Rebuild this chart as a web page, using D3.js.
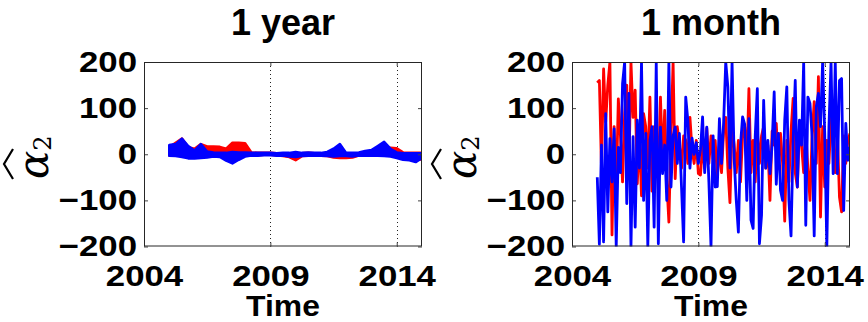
<!DOCTYPE html>
<html>
<head>
<meta charset="utf-8">
<script src="https://cdn.jsdelivr.net/npm/d3@7"></script>
<style>
  body { margin: 0; background: #fff; }
  svg { display: block; }
  text { font-family: "Liberation Sans", Arial, sans-serif; font-weight: bold; fill: #000; }
</style>
</head>
<body>
<svg id="chart" width="868" height="322"></svg>
<script>
// x ticks (years), y ticks
var xTicks = [2004, 2009, 2014];
var yTicks = [-200, -100, 0, 100, 200];
var gridYears = [2009, 2014];
var titles = ["1 year", "1 month"];

// 1 year window: quarterly envelopes of the dense estimate, 2005.00 .. 2015.00
var yearTimes = [2005, 2005.25, 2005.5, 2005.75, 2006, 2006.25, 2006.5, 2006.75, 2007, 2007.25,
  2007.5, 2007.75, 2008, 2008.25, 2008.5, 2008.75, 2009, 2009.25, 2009.5, 2009.75,
  2010, 2010.25, 2010.5, 2010.75, 2011, 2011.25, 2011.5, 2011.75, 2012, 2012.25,
  2012.5, 2012.75, 2013, 2013.25, 2013.5, 2013.75, 2014, 2014.25, 2014.5, 2014.75, 2015];
var redYearHi = [15, 25, 34, 15, 12, 22, 17, 17, 16, 12, 25, 25, 24, 4, 3, 3, 3, 2, 2, 2,
  1, 2, 3, 2, 2, 2, 1, 1, 1, 1, 2, 3, 4, 5, 10, 14, 13, 4, 3, 3, 3];
var redYearLo = [-3, -2, -3, -4, -5, -4, -3, -2, -2, -3, -3, -2, -2, -2, -2, -1, -1, -2, -4, -6,
  -13, -4, -3, -3, -3, -4, -7, -8, -8, -7, -3, -2, -2, -2, -2, -2, -3, -6, -8, -10, -12];
var blueYearHi = [20, 22, 34, 18, 8, 22, 6, 4, 3, 3, 5, 4, 4, 3, 3, 3, 3, 2, 3, 3,
  5, 3, 4, 3, 3, 5, 12, 22, 3, 3, 4, 7, 9, 18, 27, 12, 4, 2, 2, 2, 2];
var blueYearLo = [-3, -4, -6, -9, -9, -8, -7, -5, -6, -14, -20, -12, -5, -3, -3, -2, -2, -3, -3, -5,
  -6, -4, -3, -3, -3, -4, -5, -4, -4, -5, -3, -3, -3, -3, -4, -5, -8, -12, -13, -17, -8];

// 1 month window: monthly values, Jan 2005 .. Jan 2015
var redMonth = [155, 160, -30, 185, 70, 150, 200, -175, 60, -80, 120, 40, -60, 90, 150, -40, 200, 80, 139, -64,
  40, -90, 88, 60, -30, 124, -80, 60, 30, -50, 124, -20, 95, -60, -147, 40, 200, -53, 60, 20,
  -30, 40, 30, -20, 80, 10, -20, 30, -42, -45, 20, -30, 56, -20, 40, -10, 30, -50, 20, -40,
  50, 80, -30, -105, 60, 20, -40, 30, -60, 40, 60, -20, 142, -40, 30, -60, 50, -20, 40, 60,
  -30, 20, -100, 50, 20, 67, -30, 45, -20, -145, 30, -60, 50, 121, -40, -71, 60, 20, -40, 50,
  -30, -100, 40, 114, -20, 168, -136, 60, -71, 30, -20, 80, 20, -40, 50, -93, -125, 40, -20, 30, 45];
var blueMonth = [-50, -195, 20, -190, 88, -125, 34, -60, 55, -200, 15, -40, 153, 200, -107, 132, -200, 38, -158, 74,
  -30, 200, -100, 45, -200, 30, 60, -158, 200, -194, 59, -42, 20, -100, 200, -71, 40, 59, -20, 45,
  -71, -190, 124, 74, -30, 35, 0, 25, -20, 10, 81, -40, 59, -60, -200, 40, -71, -70, 77, -20,
  70, 200, 146, -30, 200, -10, -100, -169, 20, 81, 65, -100, 77, -143, -161, 40, 142, -194, -132, 117,
  -30, 30, -42, 20, 135, -65, 45, -78, -100, 74, 146, -100, -177, 30, 160, -71, 74, 20, 200, -154,
  124, 110, 40, -177, 103, 132, 60, 200, 45, -200, 59, 200, -42, 200, -42, 160, 164, -122, 67, -13, 16];
var monthTimes = redMonth.map(function(d, i) { return 2005 + i / 12; });

var svg = d3.select("#chart");
var panels = [{x0: 144, x1: 422}, {x0: 572, x1: 850}];
var yTop = 62, yBot = 246.5;
var sx = 1.2; // tick labels are drawn a bit wide in the original

panels.forEach(function(p, k) {
  var x = d3.scaleLinear().domain([2004, 2015]).range([p.x0, p.x1]);
  var y = d3.scaleLinear().domain([-200, 200]).range([yBot, yTop]);
  var g = svg.append("g");

  g.append("clipPath").attr("id", "clip" + k)
    .append("rect").attr("x", p.x0).attr("y", yTop).attr("width", p.x1 - p.x0).attr("height", yBot - yTop);

  // dotted year grid
  g.selectAll(".grid").data(gridYears).enter().append("line")
    .attr("x1", function(d) { return Math.round(x(d)) + 0.5; })
    .attr("x2", function(d) { return Math.round(x(d)) + 0.5; })
    .attr("y1", yTop).attr("y2", yBot)
    .attr("stroke", "#222").attr("stroke-width", 1)
    .style("stroke-dasharray", "1,3");

  var plot = g.append("g").attr("clip-path", "url(#clip" + k + ")");

  if (k === 0) {
    var area = function(hi, lo) {
      return d3.area()
        .x(function(d, i) { return x(yearTimes[i]); })
        .y0(function(d, i) { return y(lo[i]); })
        .y1(function(d, i) { return y(hi[i]); })(hi);
    };
    [[redYearHi, redYearLo, "#ff0000"], [blueYearHi, blueYearLo, "#0000ff"]].forEach(function(s) {
      plot.append("path")
        .attr("d", area(s[0], s[1]))
        .attr("fill", s[2]).attr("stroke", s[2]).attr("stroke-width", 2.5)
        .attr("stroke-linejoin", "round");
    });
  } else {
    var line = d3.line()
      .x(function(d, i) { return x(monthTimes[i]); })
      .y(function(d) { return y(d); });
    [[redMonth, "#ff0000"], [blueMonth, "#0000ff"]].forEach(function(s) {
      plot.append("path")
        .datum(s[0])
        .attr("d", line)
        .attr("fill", "none").attr("stroke", s[1]).attr("stroke-width", 2.8)
        .attr("stroke-linejoin", "round");
    });
  }

  // axes: MATLAB-style inward ticks on all four sides
  g.append("g").attr("class", "lab").attr("transform", "translate(" + p.x0 + ",0)")
    .call(d3.axisLeft(y).tickValues(yTicks).tickSize(-4).tickPadding(7)
      .tickFormat(function(d) { return d < 0 ? "\u2212" + Math.abs(d) : d; }));
  g.append("g").attr("transform", "translate(" + p.x1 + ",0)")
    .call(d3.axisRight(y).tickValues(yTicks).tickSize(-4).tickFormat(""));
  g.append("g").attr("class", "lab").attr("transform", "translate(0," + yBot + ")")
    .call(d3.axisBottom(x).tickValues(xTicks).tickSize(-4).tickPadding(19).tickFormat(d3.format("d")));
  g.append("g").attr("transform", "translate(0," + yTop + ")")
    .call(d3.axisTop(x).tickValues(xTicks).tickSize(-4).tickFormat(""));

  g.selectAll(".domain").remove();
  g.selectAll(".tick line").attr("stroke", "#444");
  g.selectAll(".lab .tick text")
    .style("font-size", "29px").style("font-family", "'Liberation Sans', Arial, sans-serif")
    .style("font-weight", "bold").attr("fill", "#000")
    .attr("transform", function() {
      var x0 = +d3.select(this).attr("x") || 0;
      return "translate(" + (x0 * (1 - sx)) + ",0) scale(" + sx + ",1)";
    });

  g.append("rect")
    .attr("x", p.x0 + 0.5).attr("y", yTop + 0.5)
    .attr("width", p.x1 - p.x0 - 1).attr("height", yBot - yTop - 1)
    .attr("fill", "none").attr("stroke", "#262626").attr("stroke-width", 1);

  var cx = (p.x0 + p.x1) / 2;
  g.append("text").attr("x", cx).attr("y", 35).attr("text-anchor", "middle")
    .style("font-size", "36px").text(titles[k]);

  g.append("text")
    .attr("transform", "translate(" + cx + ",316) scale(1.1,1)")
    .attr("text-anchor", "middle")
    .style("font-size", "29px").text("Time");

  // y label: alpha hat, subscript 2
  var lab = g.append("g").attr("transform", "translate(" + (p.x0 - 96) + ",155) rotate(-90)");
  var t = lab.append("text").attr("x", -24).attr("y", 0)
    .style("font-family", "'DejaVu Serif', 'Liberation Serif', serif")
    .style("font-weight", "normal");
  t.append("tspan").style("font-style", "italic").style("font-size", "42px").text("\u03b1");
  t.append("tspan").attr("dy", 3).style("font-size", "24px").text("2");
  lab.append("path")
    .attr("d", "M-24,-35 L-9,-44 L6,-35")
    .attr("fill", "none").attr("stroke", "#000").attr("stroke-width", 2.2);
});
</script>
</body>
</html>
